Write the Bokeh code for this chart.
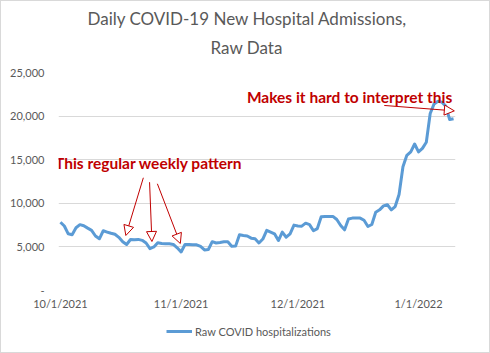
import pandas as pd
from bokeh.plotting import figure
from bokeh.layouts import column
from bokeh.models import (Range1d, FixedTicker, DatetimeTickFormatter, NumeralTickFormatter,
                          Legend, LegendItem, Label, Arrow, NormalHead, Title)
from bokeh.embed import file_html
from bokeh.resources import INLINE

# ---------------- data ----------------
start_date = "2021-10-01"
admissions = [
    7830, 7400, 6500, 6400, 7200, 7550, 7420, 7150, 6900, 6250,   # Oct 1-10
    5930, 6850, 6700, 6560, 6450, 6100, 5600, 5280, 5850, 5830,   # Oct 11-20
    5860, 5750, 5450, 4800, 4990, 5470, 5380, 5350, 5350, 5280,   # Oct 21-30
    4900, 4420, 5280, 5280, 5260, 5240, 5050, 4650, 4700, 5600,   # Oct 31-Nov 9
    5450, 5500, 5580, 5600, 5070, 5090, 6390, 6310, 6250, 6000,   # Nov 10-19
    5930, 5450, 5900, 6900, 6700, 6500, 5730, 6690, 6110, 6500,   # Nov 20-29
    7500, 7400, 7380, 7720, 7560, 6850, 7100, 8450, 8490, 8500,   # Nov 30-Dec 9
    8500, 8140, 7460, 6960, 8200, 8300, 8300, 8300, 8050, 7340,   # Dec 10-19
    7570, 8980, 9250, 9700, 9830, 9250, 9630, 11000, 14200, 15500,  # Dec 20-29
    15900, 16800, 15900, 16300, 17000, 20300, 21400, 21700, 21600, 21150,  # Dec 30-Jan 8
    19600, 19700,                                                  # Jan 9-10
]
series_name = "Raw COVID hospitalizations"
title_line1 = "Daily COVID-19 New Hospital Admissions,"
title_line2 = "Raw Data"
y_ticks = [0, 5000, 10000, 15000, 20000, 25000]
x_tick_dates = ["2021-10-01", "2021-11-01", "2021-12-01", "2022-01-01"]

# annotations: (text, day offset from start, value)
note1_text = "This regular weekly pattern"
note1_pos = (-1.4, 14570)
note2_text = "Makes it hard to interpret this"
note2_pos = (47.9, 22170)
# arrows: (start day, start value, end day, end value)
arrows = [
    (21.3, 12930, 16.8, 6310),
    (22.9, 12420, 23.5, 5620),
    (24.9, 12240, 30.8, 5390),
    (83.2, 21220, 101.2, 20600),
]

# ---------------- plot ----------------
dates = pd.date_range(start_date, periods=len(admissions), freq="D")
t0 = pd.Timestamp(start_date)
def ms(day):
    return (t0 + pd.Timedelta(days=day)).value / 1e6

FONT = "Lato"
GRAY = "#595959"
BLUE = "#5B9BD5"
RED = "#C00000"

W, H_MAIN, H_LEG = 488, 322, 29
p = figure(width=W, height=H_MAIN, x_axis_type="datetime", output_backend="svg",
           toolbar_location=None, min_border_left=57, min_border_right=34,
           min_border_top=71, min_border_bottom=H_MAIN - 289)
p.x_range = Range1d(ms(-0.5), ms(len(admissions) - 0.5))
p.y_range = Range1d(0, 25000)
p.outline_line_color = None
p.background_fill_color = "white"
p.border_fill_color = "white"

r = p.line(dates, admissions, line_color=BLUE, line_width=3, line_join="round")

# axes
p.yaxis.ticker = FixedTicker(ticks=y_ticks)
p.yaxis.formatter = NumeralTickFormatter(format="0,0")
p.yaxis.major_label_overrides = {0: "-"}
p.xaxis.ticker = FixedTicker(ticks=[pd.Timestamp(d).value / 1e6 for d in x_tick_dates])
fmt = "%-m/%-d/%Y"
p.xaxis.formatter = DatetimeTickFormatter(days=fmt, months=fmt, years=fmt, hours=fmt,
                                          minutes=fmt, seconds=fmt, milliseconds=fmt,
                                          minsec=fmt, hourmin=fmt)
for ax in (p.xaxis[0], p.yaxis[0]):
    ax.axis_line_color = None
    ax.major_tick_line_color = None
    ax.minor_tick_line_color = None
    ax.major_label_text_font = FONT
    ax.major_label_text_font_size = "11px"
    ax.major_label_text_color = GRAY
p.yaxis.major_label_standoff = 8
p.xaxis.major_label_standoff = 0

p.xgrid.grid_line_color = None
p.ygrid.ticker = FixedTicker(ticks=y_ticks)
p.ygrid.grid_line_color = "#d9d9d9"
p.ygrid.grid_line_width = 1

# title: two lines, the one added first sits closest to the plot
p.add_layout(Title(text=title_line2, align="left", offset=152, standoff=29,
                   text_font=FONT, text_font_size="17px", text_font_style="normal",
                   text_color=GRAY), "above")
p.add_layout(Title(text=title_line1, align="left", offset=29, standoff=-16,
                   text_font=FONT, text_font_size="17px", text_font_style="normal",
                   text_color=GRAY), "above")

# annotations
for txt, (dx, vy) in ((note1_text, note1_pos), (note2_text, note2_pos)):
    p.add_layout(Label(x=ms(dx), y=vy, text=txt, text_font=FONT, text_font_size="15.5px",
                       text_font_style="bold", text_color=RED, text_baseline="middle"))
for xs, ys, xe, ye in arrows:
    p.add_layout(Arrow(end=NormalHead(size=10, fill_color="white", line_color=RED, line_width=1),
                       x_start=ms(xs), y_start=ys, x_end=ms(xe), y_end=ye,
                       line_color=RED, line_width=1))

# legend strip below the chart (same series style, proxy line kept out of view)
pl = figure(width=W, height=H_LEG, output_backend="svg", toolbar_location=None,
            min_border=0, x_range=Range1d(0, 1), y_range=Range1d(0, 1))
pl.axis.visible = False
pl.grid.visible = False
pl.outline_line_color = None
pl.border_fill_color = "white"
proxy = pl.line([-5, -4], [-5, -4], line_color=BLUE, line_width=3)
legend = Legend(items=[LegendItem(label=series_name, renderers=[proxy])],
                orientation="horizontal", location=(108, 14),
                border_line_color=None, background_fill_alpha=0,
                label_text_font=FONT, label_text_font_size="11px",
                label_text_color=GRAY, glyph_width=26, glyph_height=14,
                label_standoff=3, margin=0, padding=0)
pl.add_layout(legend)

layout = column(p, pl, spacing=0, styles={"border": "1px solid #d9d9d9"})
open("out.html", "w").write(file_html(layout, INLINE))
